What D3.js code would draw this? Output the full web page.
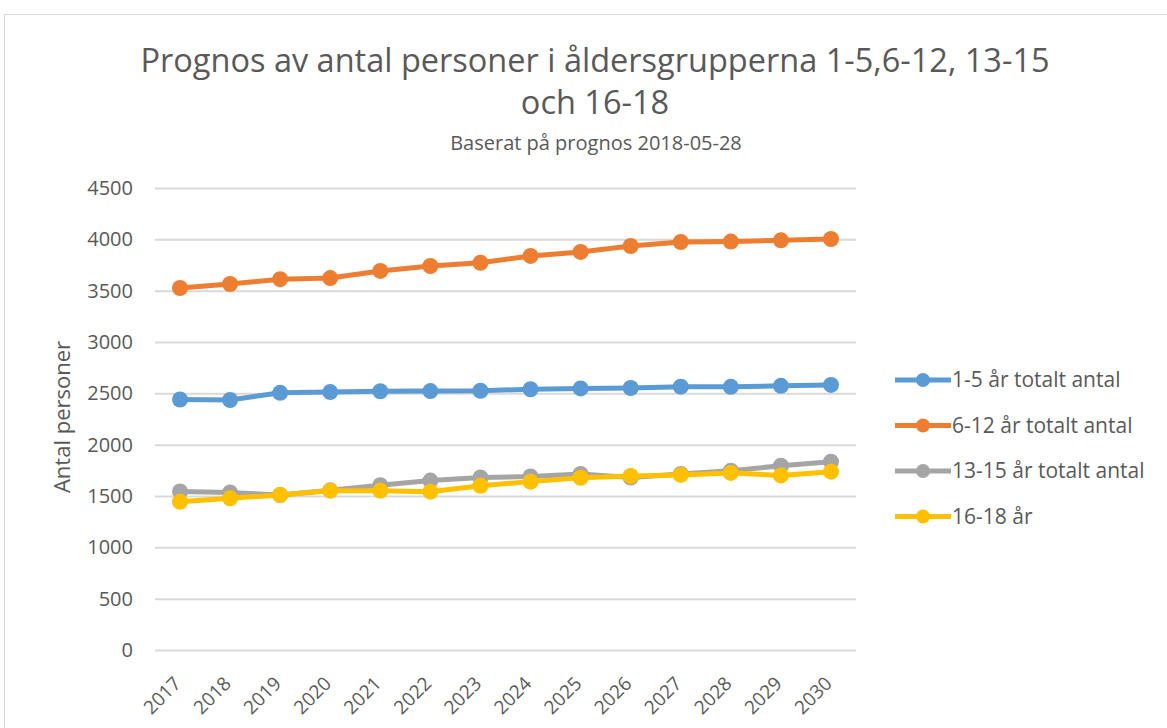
<!DOCTYPE html>
<html>
<head>
<meta charset="utf-8">
<script src="https://cdn.jsdelivr.net/npm/d3@7"></script>
<style>
  body { margin: 0; background: #fff; }
  text { font-family: "Open Sans", Lato, sans-serif; fill: #595959; }
</style>
</head>
<body>
<div id="chart"></div>
<script>
// data
var years = ["2017","2018","2019","2020","2021","2022","2023","2024","2025","2026","2027","2028","2029","2030"];
var age1to5 = [2440,2435,2505,2512,2520,2522,2525,2540,2548,2552,2565,2563,2573,2582];
var age6to12 = [3526,3565,3612,3623,3692,3740,3772,3838,3877,3935,3974,3978,3990,4003];
var age13to15 = [1545,1535,1510,1555,1605,1650,1680,1690,1715,1680,1714,1746,1795,1834];
var age16to18 = [1445,1477,1510,1552,1552,1542,1600,1640,1678,1695,1705,1725,1700,1737];
var seriesNames = ["1-5 år totalt antal","6-12 år totalt antal","13-15 år totalt antal","16-18 år"];
var yTicks = [0,500,1000,1500,2000,2500,3000,3500,4000,4500];

var colors = ["#5b9bd5","#ed7d31","#a5a5a5","#ffc000"];
var allSeries = [age1to5, age6to12, age13to15, age16to18];

var width = 1167, height = 728;

var svg = d3.select("#chart").append("svg")
  .attr("width", width)
  .attr("height", height);

// chart frame
svg.append("rect")
  .attr("x", 4.5).attr("y", 14.5)
  .attr("width", width + 10).attr("height", height)
  .attr("fill", "none").attr("stroke", "#d9d9d9");

// scales
var x = d3.scalePoint().domain(years).range([180, 831]);
var y = d3.scaleLinear().domain([0, 4500]).range([650, 188]);

// gridlines
svg.append("g").selectAll("line").data(yTicks).enter()
  .append("line")
  .attr("x1", 155).attr("x2", 856)
  .attr("y1", function(d) { return y(d) + 0.5; })
  .attr("y2", function(d) { return y(d) + 0.5; })
  .attr("stroke", "#d9d9d9").attr("stroke-width", 2);

// y axis labels
var yAxis = d3.axisLeft(y).tickValues(yTicks).tickFormat(d3.format("d")).tickSize(0).tickPadding(0);
var yg = svg.append("g").attr("transform", "translate(133,0)").call(yAxis);
yg.select(".domain").remove();
yg.selectAll("text").attr("font-size", 20).attr("fill", "#595959")
  .style("font-family", "'Open Sans', Lato, sans-serif");

// x axis labels
var xAxis = d3.axisBottom(x).tickSize(0).tickPadding(0);
var xg = svg.append("g").attr("transform", "translate(0,650)").call(xAxis);
xg.select(".domain").remove();
xg.selectAll("text")
  .attr("font-size", 19).attr("fill", "#595959")
  .style("font-family", "'Open Sans', Lato, sans-serif")
  .attr("text-anchor", "end")
  .attr("dy", "0.35em")
  .attr("transform", "translate(-3,30) rotate(-45)");

// lines and markers
var line = d3.line()
  .x(function(d, i) { return x(years[i]); })
  .y(function(d) { return y(d); });

allSeries.forEach(function(vals, k) {
  svg.append("path")
    .datum(vals)
    .attr("d", line)
    .attr("fill", "none")
    .attr("stroke", colors[k])
    .attr("stroke-width", 5)
    .attr("stroke-linejoin", "round");
  svg.append("g").selectAll("circle").data(vals).enter()
    .append("circle")
    .attr("cx", function(d, i) { return x(years[i]); })
    .attr("cy", function(d) { return y(d); })
    .attr("r", 8)
    .attr("fill", colors[k]);
});

// titles
svg.append("text").attr("x", 595).attr("y", 72)
  .attr("text-anchor", "middle").attr("font-size", 32.5)
  .text("Prognos av antal personer i åldersgrupperna 1-5,6-12, 13-15");
svg.append("text").attr("x", 595).attr("y", 114)
  .attr("text-anchor", "middle").attr("font-size", 32.5)
  .text("och 16-18");
svg.append("text").attr("x", 596).attr("y", 150)
  .attr("text-anchor", "middle").attr("font-size", 20)
  .text("Baserat på prognos 2018-05-28");

// y axis title
svg.append("text")
  .attr("transform", "translate(70,417) rotate(-90)")
  .attr("text-anchor", "middle").attr("font-size", 22)
  .text("Antal personer");

// legend
var legend = svg.append("g").selectAll("g").data(seriesNames).enter()
  .append("g")
  .attr("transform", function(d, i) { return "translate(895," + (380 + i * 45.5) + ")"; });
legend.append("line")
  .attr("x1", 0).attr("x2", 56).attr("y1", 0).attr("y2", 0)
  .attr("stroke", function(d, i) { return colors[i]; })
  .attr("stroke-width", 5);
legend.append("circle")
  .attr("cx", 28).attr("cy", 0).attr("r", 7)
  .attr("fill", function(d, i) { return colors[i]; });
legend.append("text")
  .attr("x", 57).attr("y", 0).attr("dy", "0.35em")
  .attr("font-size", 21)
  .text(function(d) { return d; });
</script>
</body>
</html>
